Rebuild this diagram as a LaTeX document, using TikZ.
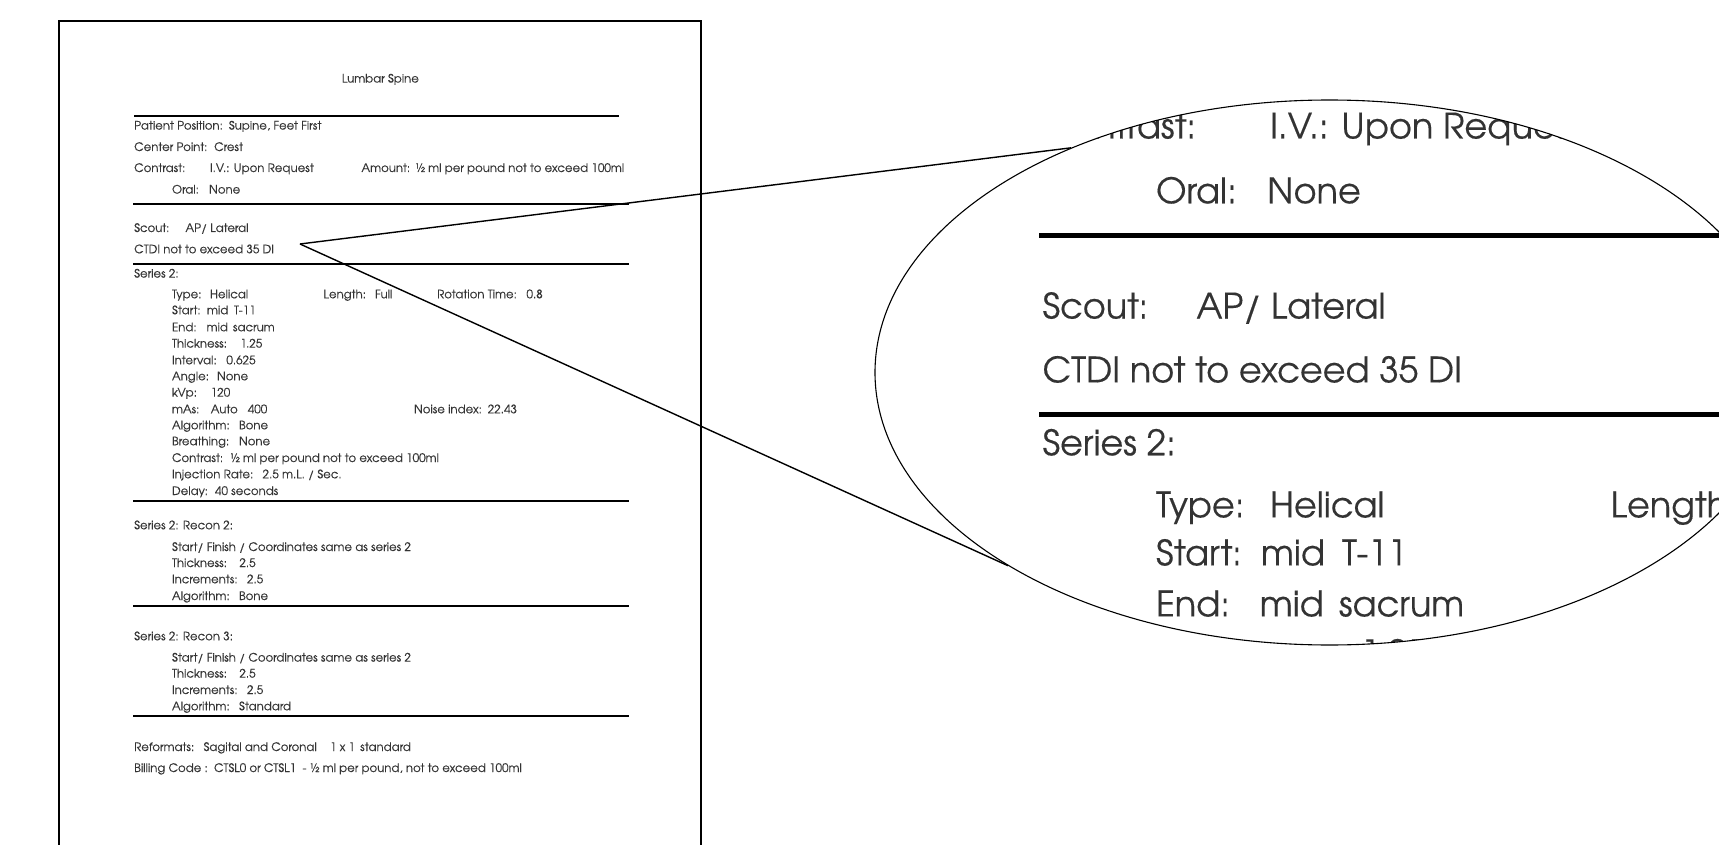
\documentclass[tikz,border=0pt]{standalone}
\usepackage{fontspec}
\setmainfont[FakeBold=0.3]{TeX Gyre Adventor}
\usetikzlibrary{shapes.geometric}
\definecolor{txt}{HTML}{333333}
\newcommand\docfont{\fontsize{11.7}{13}\selectfont}
\newcommand\pfx{s}
\newcommand\rw{1.7pt}
\tikzset{doctext/.style={anchor=base west, inner sep=0pt, outer sep=0pt, text=txt, font=\docfont}}
\newcommand\dl[4]{\node[doctext] (\pfx#1) at ({#2},{#3+4.3}) {#4};}
\newcommand\drule[4]{\draw[line width=\rw, black] (#2,#4) coordinate (\pfx#1a) -- (#3,#4) coordinate (\pfx#1b);}
\newcommand\mydoc{%
 \node[doctext, anchor=base] (\pfx title) at (380.4,82.6) {Lumbar Spine};
 \drule{ra}{134.2}{619.1}{115.7}
 \dl{pp}{134.2}{125.3}{Patient Position:}
 \dl{ppv}{228.9}{125.3}{Supine, Feet First}
 \dl{cp}{134.2}{146.7}{Center Point:}
 \dl{cpv}{214.2}{146.7}{Crest}
 \dl{co}{134.2}{167.7}{Contrast:}
 \dl{cov}{210}{167.7}{I.V.: Upon Request}
 \dl{am}{361.5}{167.7}{Amount:\ \,½ ml per pound not to exceed 100ml}
 \dl{or}{172}{189.3}{Oral:}
 \dl{orv}{209.1}{189.3}{None}
 \drule{rb}{133}{628.7}{204.3}
 \dl{sc}{134.2}{227.7}{Scout:}
 \dl{scv}{185.5}{227.7}{AP/ Lateral}
 \dl{ct}{134.2}{249}{CTDI not to exceed 35 DI}
 \drule{rc}{133}{628.7}{264}
 \dl{se}{134.2}{273.3}{Series 2:}
 \dl{ty}{172}{294}{Type:}
 \dl{tyv}{210}{294}{Helical}
 \dl{le}{323.6}{294}{Length:}
 \dl{lev}{375}{294}{Full}
 \dl{ro}{437.2}{294}{Rotation Time:}
 \dl{rov}{526.5}{294}{0.8}
 \dl{st}{172}{310}{Start:}
 \dl{stv}{207}{310}{mid}
 \dl{stw}{234}{310}{T-11}
 \dl{en}{172}{327}{End:}
 \dl{env}{206.6}{327}{mid}
 \dl{enw}{233}{327}{sacrum}
 \dl{th}{172}{343.3}{Thickness:}
 \dl{thv}{240.3}{343.3}{1.25}
 \dl{in}{172}{360}{Interval:}
 \dl{inv}{226.4}{360}{0.625}
 \dl{an}{172}{376}{Angle:}
 \dl{anv}{217}{376}{None}
 \dl{kv}{172}{392.3}{kVp:}
 \dl{kvv}{210.8}{392.3}{120}
 \dl{ma}{172}{409}{mAs:}
 \dl{mav}{210.8}{409}{Auto}
 \dl{maw}{247.8}{409}{400}
 \dl{no}{414}{409}{Noise index:}
 \dl{nov}{487.8}{409}{22.43}
 \dl{al}{172}{425}{Algorithm:}
 \dl{alv}{239}{425}{Bone}
 \dl{br}{172}{441}{Breathing:}
 \dl{brv}{239}{441}{None}
 \dl{cn}{172}{457.7}{Contrast:}
 \dl{cnv}{230}{457.7}{½ ml per pound not to exceed 100ml}
 \dl{ij}{172}{474}{Injection Rate:}
 \dl{ijv}{262.6}{474}{2.5 m.L. / Sec.}
 \dl{de}{172}{490.7}{Delay:}
 \dl{dev}{215}{490.7}{40 seconds}
 \drule{rd}{133}{628.7}{500.7}
 \dl{rt}{134.2}{525}{Series 2: Recon 2:}
 \dl{rta}{172}{546.7}{Start/ Finish / Coordinates same as series 2}
 \dl{rtb}{172}{562.7}{Thickness:}
 \dl{rtbv}{239.4}{562.7}{2.5}
 \dl{rtc}{172}{579}{Increments:}
 \dl{rtcv}{247}{579}{2.5}
 \dl{rtd}{172}{595.7}{Algorithm:}
 \dl{rtdv}{239}{595.7}{Bone}
 \drule{re}{133}{628.7}{605.7}
 \dl{rh}{134.2}{636}{Series 2: Recon 3:}
 \dl{rha}{172}{657.3}{Start/ Finish / Coordinates same as series 2}
 \dl{rhb}{172}{673.3}{Thickness:}
 \dl{rhbv}{239.4}{673.3}{2.5}
 \dl{rhc}{172}{689.7}{Increments:}
 \dl{rhcv}{247}{689.7}{2.5}
 \dl{rhd}{172}{706}{Algorithm:}
 \dl{rhdv}{239}{706}{Standard}
 \drule{rf}{133}{628.7}{716.3}
 \dl{rf}{134.2}{746.7}{Reformats:}
 \dl{rfv}{203.6}{746.7}{Sagital and Coronal}
 \dl{rfw}{330}{746.7}{1 x 1}
 \dl{rfx}{360.2}{746.7}{standard}
 \dl{bc}{134.2}{767.7}{Billing Code :}
 \dl{bcv}{214}{767.7}{CTSL0 or CTSL1\ \ - ½ ml per pound, not to exceed 100ml}
}
\begin{document}
\begin{tikzpicture}[x=1pt, y=-1pt]
\useasboundingbox (0,0) rectangle (1719,845);
\clip (0,0) rectangle (1719,845);
\fill[white] (0,0) rectangle (1719,845);
% page frame
\draw[line width=2pt] (59,880) -- (59,20.7) -- (701,20.7) -- (701,880);
% small document
\mydoc
% magnified copy inside the lens
\begin{scope}
 \clip (1329.5,372.5) ellipse [x radius=454.5pt, y radius=272.5pt];
 \begin{scope}[shift={(640,-377.5)}, scale=3, transform shape]
  \renewcommand\pfx{b}\renewcommand\rw{5.1pt}
  \mydoc
 \end{scope}
\end{scope}
\node[draw, ellipse, minimum width=909pt, minimum height=545pt, inner sep=0pt, line width=1.1pt] (lens) at (1329.5,372.5) {};
\coordinate (src) at (300,244);
\draw[line width=1.4pt] (src) -- (lens.139.5);
\draw[line width=1.4pt] (src) -- (lens.211.7);
\end{tikzpicture}
\end{document}
